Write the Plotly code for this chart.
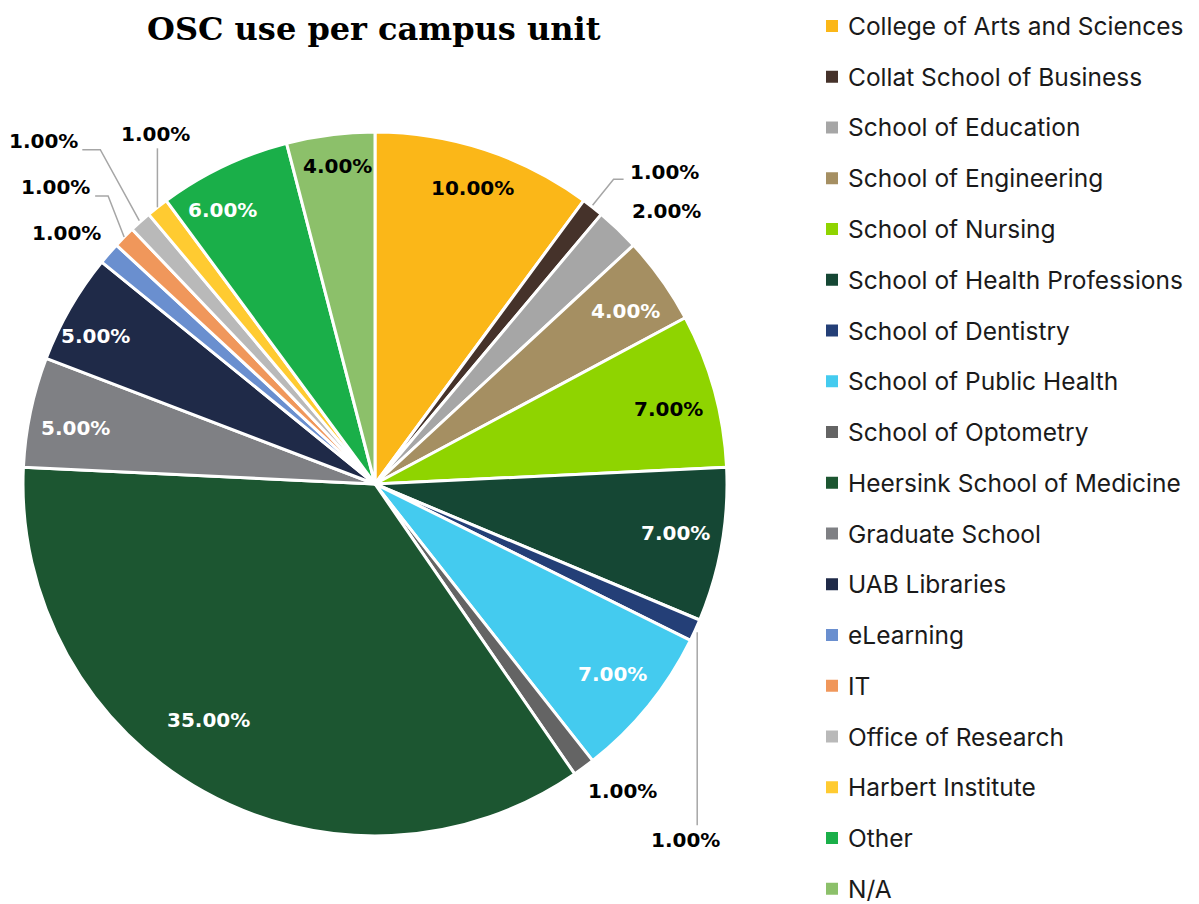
import math
import plotly.graph_objects as go

# ---------------- data ----------------
units = [
    "College of Arts and Sciences", "Collat School of Business", "School of Education",
    "School of Engineering", "School of Nursing", "School of Health Professions",
    "School of Dentistry", "School of Public Health", "School of Optometry",
    "Heersink School of Medicine", "Graduate School", "UAB Libraries", "eLearning",
    "IT", "Office of Research", "Harbert Institute", "Other", "N/A",
]
shares = [10, 1, 2, 4, 7, 7, 1, 7, 1, 35, 5, 5, 1, 1, 1, 1, 6, 4]
title_text = "OSC use per campus unit"

# ---------------- styles ----------------
colors = [
    "#FBB718", "#45322A", "#A6A6A6", "#A58F62", "#8FD400", "#154734",
    "#243F77", "#44CBEF", "#646464", "#1C5631", "#7F8084", "#1F2A48",
    "#6A8FCF", "#F0975B", "#B9B9B9", "#FFCB31", "#1AAF49", "#8CC06A",
]

OFF = 8                      # page body margin
W, H = 1199 - OFF, 904 - OFF
CX, CY, R = 375, 484, 352    # in page pixels


def px(x):
    return (x - OFF) / W


def py(y):
    return 1 - (y - OFF) / H


# inside label placement: index -> (radius fraction, angle shift deg, colour)
inside = {
    0: (0.885, 0.0, "black"), 3: (0.864, 0.8, "white"), 4: (0.86, 1.2, "black"),
    5: (0.864, -0.7, "white"), 7: (0.865, -0.5, "white"), 9: (0.82, 6.2, "white"),
    10: (0.867, -1.2, "white"), 11: (0.90, -2.1, "white"), 16: (0.89, -3.7, "white"),
    17: (0.91, 0.5, "black"),
}
# outside label placement: index -> (label offset from slice edge, leader line offsets)
outside = {
    1: ((72, -35), [(0, -2), (21, -28), (31, -28)]),
    2: ((49, -18), None),
    6: ((-10, 210), [(2, 2), (2, 195)]),
    8: ((39, 24), None),
    12: ((-42, -20), None),
    13: ((-69, -50), [(0, 0), (-16, -41), (-29, -41)]),
    14: ((-97, -81), [(-1, -1), (-40, -72), (-58, -72)]),
    15: ((-2, -73), [(0, 0), (0, -59)]),
}

LABEL_FONT = dict(family="DejaVu Sans", size=20, weight="bold")

fig = go.Figure(
    go.Pie(
        labels=units, values=shares, sort=False, direction="clockwise", rotation=0,
        marker=dict(colors=colors, line=dict(color="white", width=3)),
        textinfo="none", hoverinfo="label+value", showlegend=False,
        domain=dict(x=[px(CX - R), px(CX + R)], y=[py(CY + R), py(CY - R)]),
    )
)

total = sum(shares)
annotations = []
shapes = []
cum = 0
for i, v in enumerate(shares):
    mid = 360.0 * (cum + v / 2) / total
    cum += v
    txt = f"{v:.2f}%"
    if i in inside:
        frac, da, col = inside[i]
        a = math.radians(mid + da)
        x = CX + frac * R * math.sin(a)
        y = CY - frac * R * math.cos(a)
        annotations.append(dict(x=px(x), y=py(y), xref="paper", yref="paper", text=txt,
                                showarrow=False, xanchor="center", yanchor="middle",
                                font=dict(LABEL_FONT, color=col)))
    elif i in outside:
        a = math.radians(mid)
        ex = CX + R * math.sin(a)
        ey = CY - R * math.cos(a)
        (lx, ly), line = outside[i]
        annotations.append(dict(x=px(ex + lx), y=py(ey + ly), xref="paper", yref="paper", text=txt,
                                showarrow=False, xanchor="center", yanchor="middle",
                                font=dict(LABEL_FONT, color="black")))
        if line:
            pts = [(px(ex + dx), py(ey + dy)) for dx, dy in line]
            path = "M " + " L ".join(f"{p[0]:.5f},{p[1]:.5f}" for p in pts)
            shapes.append(dict(type="path", path=path, xref="paper", yref="paper",
                               line=dict(color="#A6A6A6", width=1.5)))

# manual legend
LEG_X, LEG_Y0, LEG_STEP, SQ = 826, 26, 50.75, 12
for i, (u, c) in enumerate(zip(units, colors)):
    yc = LEG_Y0 + i * LEG_STEP
    shapes.append(dict(type="rect", xref="paper", yref="paper",
                       x0=px(LEG_X), x1=px(LEG_X + SQ), y0=py(yc + SQ / 2), y1=py(yc - SQ / 2),
                       fillcolor=c, line=dict(width=0)))
    annotations.append(dict(x=px(LEG_X + 20), y=py(yc), xref="paper", yref="paper", text=u,
                            showarrow=False, xanchor="left", yanchor="middle",
                            font=dict(family="Inter", size=24.5, color="#1a1a1a")))

# title
annotations.append(dict(x=px(374), y=py(29), xref="paper", yref="paper", text=f"<b>{title_text}</b>",
                        showarrow=False, xanchor="center", yanchor="middle",
                        font=dict(family="DejaVu Serif", size=32, color="black")))

fig.update_layout(
    width=W, height=H, margin=dict(l=0, r=0, t=0, b=0),
    paper_bgcolor="white", plot_bgcolor="white",
    annotations=annotations, shapes=shapes, showlegend=False,
)
fig.write_html("out.html")
